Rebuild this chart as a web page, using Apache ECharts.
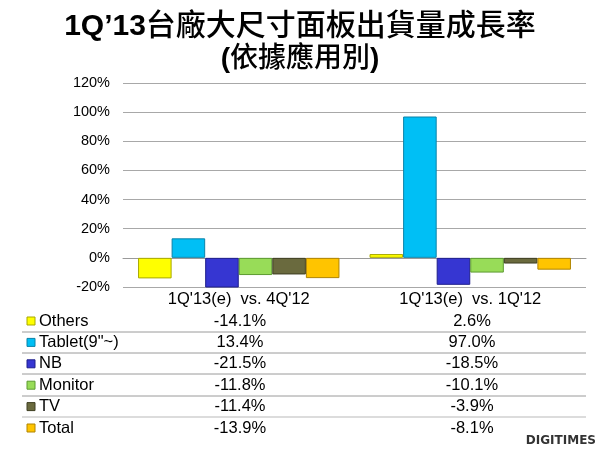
<!DOCTYPE html>
<html>
<head>
<meta charset="utf-8">
<script src="https://cdn.jsdelivr.net/npm/echarts@6/dist/echarts.min.js"></script>
<style>
html,body{margin:0;padding:0;background:#fff;}
#chart{width:600px;height:450px;}
</style>
</head>
<body>
<div id="chart"></div>
<script>
var categories = ["1Q'13(e)  vs. 4Q'12", "1Q'13(e)  vs. 1Q'12"];
var seriesNames = ['Others', 'Tablet(9"~)', 'NB', 'Monitor', 'TV', 'Total'];
var others  = [-14.1, 2.6];
var tablet  = [13.4, 97.0];
var nb      = [-21.5, -18.5];
var monitor = [-11.8, -10.1];
var tv      = [-11.4, -3.9];
var total   = [-13.9, -8.1];
var yTicks  = [-20, 0, 20, 40, 60, 80, 100, 120];

var seriesValues = [others, tablet, nb, monitor, tv, total];
var colors  = ['#ffff00', '#00bff5', '#3636d2', '#98dc58', '#6a6a3e', '#ffc400'];
var borders = ['#a8a800', '#0a82a8', '#1e1e8c', '#5c9a30', '#3e3e22', '#b08400'];

var latin = "'Liberation Sans', Arial, sans-serif";

var series = seriesValues.map(function (vals, i) {
  return {
    name: seriesNames[i],
    type: 'bar',
    data: vals,
    barGap: '0%',
    barCategoryGap: '13%',
    clip: true,
    itemStyle: {
      color: colors[i],
      borderColor: borders[i],
      borderWidth: 1
    }
  };
});

var graphics = [];
var rowTop = 321, rowPitch = 21.4;
var colX = [240, 472];
seriesNames.forEach(function (name, i) {
  var y = rowTop + i * rowPitch;
  graphics.push({
    type: 'rect', x: 27, y: y - 4,
    shape: {width: 8, height: 8},
    style: {fill: colors[i], stroke: borders[i], lineWidth: 1}
  });
  graphics.push({
    type: 'text', x: 39, y: y,
    style: {text: name, fill: '#000', font: '16.5px ' + latin,
            textAlign: 'left', textVerticalAlign: 'middle'}
  });
  seriesValues[i].forEach(function (v, j) {
    graphics.push({
      type: 'text', x: colX[j], y: y,
      style: {text: v.toFixed(1) + '%', fill: '#000', font: '16.5px ' + latin,
              textAlign: 'center', textVerticalAlign: 'middle'}
    });
  });
});
var lineYs = [332, 353, 374, 396];
lineYs.forEach(function (ly) {
  graphics.push({type: 'line', shape: {x1: 22, y1: ly, x2: 586, y2: ly},
    style: {stroke: '#9a9a9a', lineWidth: 1}});
});
graphics.push({type: 'line', shape: {x1: 22, y1: 417, x2: 586, y2: 417},
  style: {stroke: '#dcdcdc', lineWidth: 2}});
graphics.push({
  type: 'text', x: 596, y: 441,
  style: {text: 'DIGITIMES', fill: '#333', font: "900 12px 'DejaVu Sans', sans-serif",
          textAlign: 'right', textVerticalAlign: 'middle'}
});

var chart = echarts.init(document.getElementById('chart'));
chart.setOption({
  animation: false,
  backgroundColor: '#fff',
  title: [{
    text: '{a|1Q’13}{b|台廠大尺寸面板出貨量成長率}',
    left: 'center', top: 0,
    textStyle: {
      rich: {
        a: {fontFamily: latin, fontWeight: 'bold', fontSize: 30, color: '#000',
            padding: [7, 0, 0, 0]},
        b: {fontFamily: 'Noto Sans CJK TC', fontWeight: 500, fontSize: 30, color: '#000'}
      }
    }
  }, {
    text: '{a|(}{b|依據應用別}{a|)}',
    left: 'center', top: 35,
    textStyle: {
      rich: {
        a: {fontFamily: latin, fontWeight: 'bold', fontSize: 28, color: '#000',
            padding: [5, 0, 0, 0]},
        b: {fontFamily: 'Noto Sans CJK TC', fontWeight: 500, fontSize: 28, color: '#000'}
      }
    }
  }],
  grid: {left: 123, right: 14, top: 83, bottom: 163},
  xAxis: {
    type: 'category',
    data: categories,
    axisLine: {show: true, lineStyle: {color: '#9a9a9a'}},
    axisTick: {show: false},
    axisLabel: {color: '#000', fontSize: 16.5, fontFamily: latin, margin: 4}
  },
  yAxis: {
    type: 'value',
    min: yTicks[0], max: yTicks[yTicks.length - 1], interval: 20,
    axisLine: {show: false},
    axisTick: {show: false},
    axisLabel: {color: '#000', fontSize: 14.5, fontFamily: latin, margin: 13,
                formatter: '{value}%'},
    splitLine: {lineStyle: {color: '#a8a8a8', width: 1}}
  },
  series: series,
  graphic: graphics
});
</script>
</body>
</html>
